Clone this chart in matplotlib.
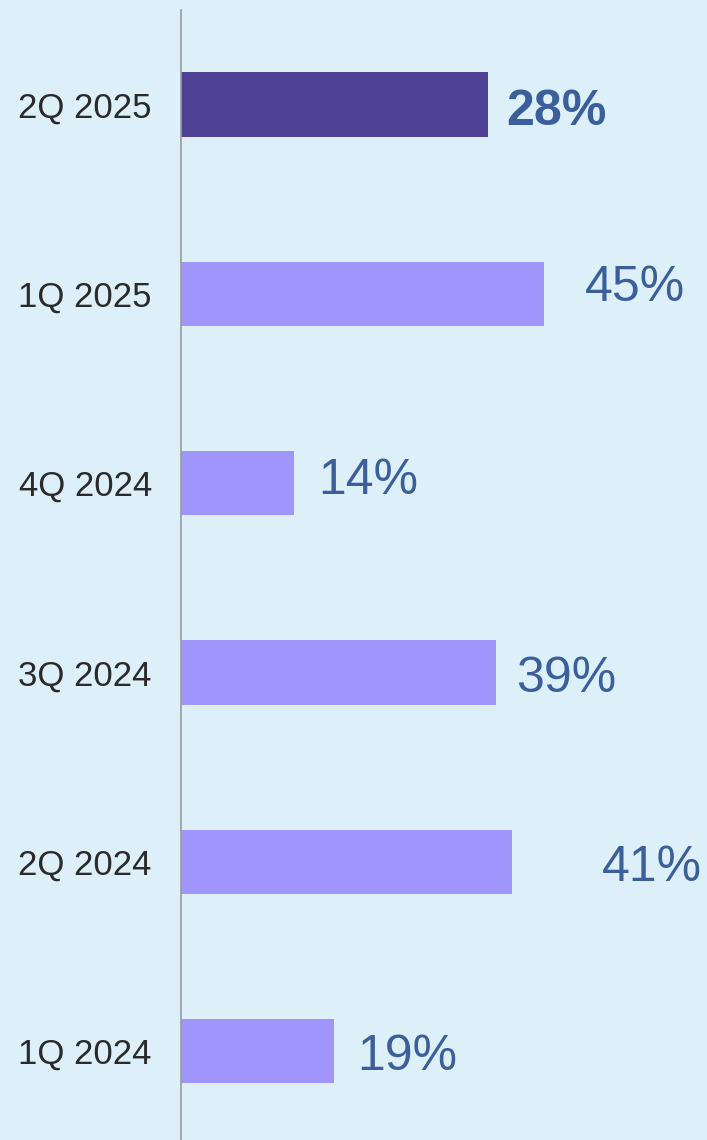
import matplotlib.pyplot as plt

# data, bottom to top
quarters = ['1Q 2024', '2Q 2024', '3Q 2024', '4Q 2024', '1Q 2025', '2Q 2025']
bar_values = [19, 41, 39, 14, 45, 38]   # bar lengths as drawn
value_labels = ['19%', '41%', '39%', '14%', '45%', '28%']

# label placement (data x where label starts, vertical nudge in px, + = down)
label_x = [21.9, 52.2, 41.5, 17.0, 50.1, 40.3]
label_dy = [5.5, 6.5, 6.5, -2.5, -5.5, 7.5]

bg = '#DDF0FA'
light = '#A095FB'
dark = '#4F4196'
label_color = '#3A5F9A'

plt.rcParams['font.family'] = ['Liberation Sans', 'DejaVu Sans']

fig = plt.figure(figsize=(7.07, 11.4), dpi=100, facecolor=bg)
ax = fig.add_axes([181 / 707, 0, 1 - 181 / 707, 1130 / 1140])
ax.set_facecolor(bg)

ypos = list(range(len(quarters)))
colors = [light] * (len(quarters) - 1) + [dark]
ax.barh(ypos, bar_values, height=0.34, color=colors)

for i, (lab, lx, dy) in enumerate(zip(value_labels, label_x, label_dy)):
    last = i == len(quarters) - 1
    ax.annotate(lab, (lx, i), xytext=(0, -dy * 0.72), textcoords='offset points',
                ha='left', va='center', fontsize=36, color=label_color,
                fontweight='bold' if last else 'normal')

ax.set_xlim(0, 526 / 8.07)
ax.set_ylim(-0.47, 5.5)
ax.set_yticks(ypos)
ax.set_yticklabels(quarters, fontsize=25, color='#2a2a2a')
ax.tick_params(axis='y', length=0, pad=21)
ax.set_xticks([])
for s in ['top', 'right', 'bottom']:
    ax.spines[s].set_visible(False)
ax.spines['left'].set_color('#9a9a9a')
ax.spines['left'].set_linewidth(1.2)

plt.savefig('out.png', dpi=100, facecolor=bg)
